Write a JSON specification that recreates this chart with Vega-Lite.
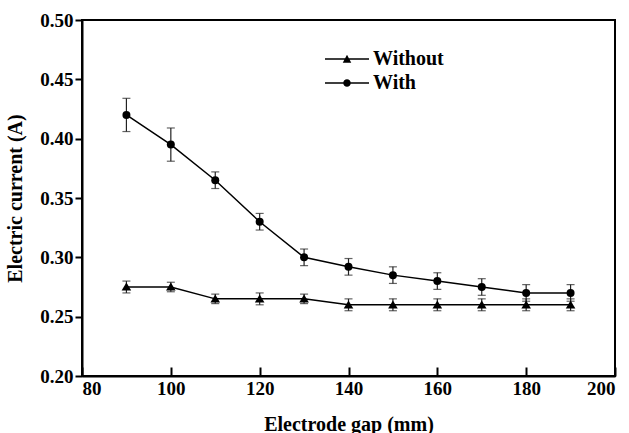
{
  "$schema": "https://vega.github.io/schema/vega-lite/v6.json",
  "autosize": {"type": "none"},
  "padding": {"left": 82, "top": 20, "right": 14, "bottom": 57},
  "width": 533,
  "height": 356,
  "background": "white",
  "config": {
    "font": "Liberation Serif",
    "view": {"stroke": "black", "strokeWidth": 2},
    "axis": {
      "grid": false,
      "domainColor": "black",
      "domainWidth": 2,
      "tickColor": "black",
      "tickWidth": 2,
      "labelFont": "Liberation Serif",
      "labelFontWeight": "bold",
      "labelFontSize": 19,
      "labelColor": "black",
      "titleFont": "Liberation Serif",
      "titleFontWeight": "bold",
      "titleFontSize": 20,
      "titleColor": "black"
    }
  },
  "data": {
    "values": [
      {"gap": 90, "current": 0.42, "err": 0.014, "series": "With"},
      {"gap": 100, "current": 0.395, "err": 0.014, "series": "With"},
      {"gap": 110, "current": 0.365, "err": 0.007, "series": "With"},
      {"gap": 120, "current": 0.33, "err": 0.007, "series": "With"},
      {"gap": 130, "current": 0.3, "err": 0.007, "series": "With"},
      {"gap": 140, "current": 0.292, "err": 0.007, "series": "With"},
      {"gap": 150, "current": 0.285, "err": 0.007, "series": "With"},
      {"gap": 160, "current": 0.28, "err": 0.007, "series": "With"},
      {"gap": 170, "current": 0.275, "err": 0.007, "series": "With"},
      {"gap": 180, "current": 0.27, "err": 0.007, "series": "With"},
      {"gap": 190, "current": 0.27, "err": 0.007, "series": "With"},
      {"gap": 90, "current": 0.275, "err": 0.005, "series": "Without"},
      {"gap": 100, "current": 0.275, "err": 0.004, "series": "Without"},
      {"gap": 110, "current": 0.265, "err": 0.004, "series": "Without"},
      {"gap": 120, "current": 0.265, "err": 0.005, "series": "Without"},
      {"gap": 130, "current": 0.265, "err": 0.004, "series": "Without"},
      {"gap": 140, "current": 0.26, "err": 0.005, "series": "Without"},
      {"gap": 150, "current": 0.26, "err": 0.005, "series": "Without"},
      {"gap": 160, "current": 0.26, "err": 0.005, "series": "Without"},
      {"gap": 170, "current": 0.26, "err": 0.005, "series": "Without"},
      {"gap": 180, "current": 0.26, "err": 0.005, "series": "Without"},
      {"gap": 190, "current": 0.26, "err": 0.005, "series": "Without"}
    ]
  },
  "encoding": {
    "x": {
      "field": "gap",
      "type": "quantitative",
      "scale": {"domain": [80, 200], "nice": false, "zero": false},
      "axis": {
        "title": "Electrode gap (mm)",
        "values": [80, 100, 120, 140, 160, 180, 200],
        "tickSize": -9,
        "labelPadding": 12,
        "titlePadding": 16
      }
    },
    "y": {
      "field": "current",
      "type": "quantitative",
      "scale": {"domain": [0.2, 0.5], "nice": false, "zero": false},
      "axis": {
        "title": "Electric current (A)",
        "values": [0.2, 0.25, 0.3, 0.35, 0.4, 0.45, 0.5],
        "format": ".2f",
        "tickSize": 7,
        "labelPadding": 2,
        "titlePadding": 14
      }
    }
  },
  "layer": [
    {
      "mark": {"type": "errorbar", "ticks": {"size": 8, "color": "#222"}, "color": "#222", "thickness": 1.2},
      "encoding": {
        "yError": {"field": "err"},
        "detail": {"field": "series"}
      }
    },
    {
      "mark": {"type": "line", "color": "black", "strokeWidth": 1.5},
      "encoding": {
        "detail": {"field": "series"}
      }
    },
    {
      "mark": {"type": "point", "filled": true, "color": "black", "opacity": 1, "size": 64},
      "encoding": {
        "shape": {
          "field": "series",
          "type": "nominal",
          "scale": {"domain": ["Without", "With"], "range": ["M-1.2,0.9L0,-1.1L1.2,0.9Z", "circle"]},
          "legend": null
        }
      }
    },
    {
      "mark": {"type": "point", "filled": true, "color": "black", "opacity": 0, "size": 100},
      "encoding": {
        "shape": {
          "field": "series",
          "type": "nominal",
          "scale": {"domain": ["Without", "With"], "range": ["M-4.4,-0.16H4.4V0.16H-4.4ZM-0.85,0.75L0,-0.85L0.85,0.75Z", "M-4.4,-0.16H4.4V0.16H-4.4ZM0.75,0A0.75,0.75,0,1,1,-0.75,0A0.75,0.75,0,1,1,0.75,0Z"]},
          "legend": {
            "title": null,
            "orient": "none",
            "legendX": 255,
            "legendY": 29,
            "symbolSize": 100,
            "symbolOpacity": 1,
            "symbolFillColor": "black",
            "symbolStrokeColor": "black",
            "symbolStrokeWidth": 0,
            "labelFont": "Liberation Serif",
            "labelFontWeight": "bold",
            "labelFontSize": 20,
            "labelColor": "black",
            "labelOffset": 16,
            "rowPadding": 4
          }
        }
      }
    }
  ],
  "resolve": {"scale": {"shape": "independent"}, "legend": {"shape": "independent"}}
}
